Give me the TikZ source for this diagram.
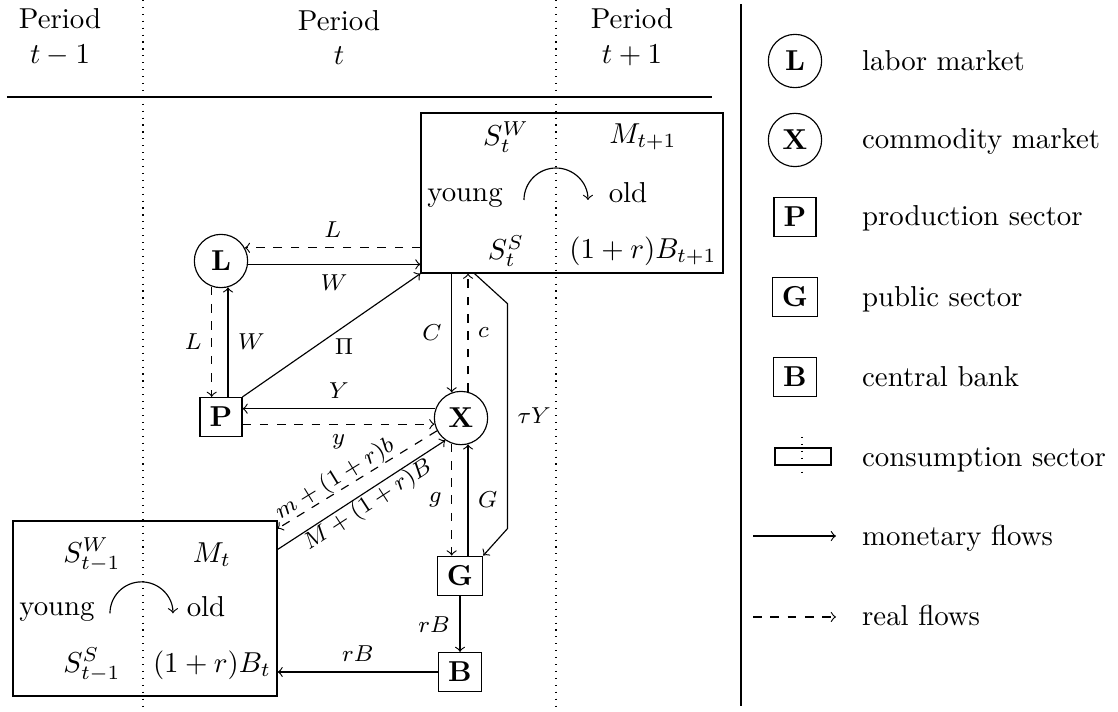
\documentclass[tikz,border=0pt]{standalone}
\usepackage{amsmath,amssymb}
\usetikzlibrary{calc}
\tikzset{
  market/.style={draw,circle,minimum size=0.65cm,inner sep=0pt,font=\bfseries},
  sector/.style={draw,rectangle,font=\bfseries},
  money/.style={->,every node/.append style={font=\footnotesize}},
  real/.style={->,dashed,every node/.append style={font=\footnotesize}},
  period/.style={align=center}
}

\begin{document}
\begin{tikzpicture}
\useasboundingbox (0,0) rectangle (13.634,-8.671);

% Periods
\node[period] (pprev) at (0.732,-0.457) {Period\\$t-1$};
\node[period] (pnow) at (4.134,-0.457) {Period\\$t$};
\node[period] (pnext) at (7.707,-0.457) {Period\\$t+1$};
\draw (0.085,-1.183) -- (8.683,-1.183);
\draw[dotted] (1.744,0) -- (1.744,-8.671);
\draw[dotted] (6.780,0) -- (6.780,-8.671);
\draw (9.037,-0.05) -- (9.037,-8.61);

% Consumption sector, period t
\node[draw,minimum width=3.683cm,minimum height=1.951cm,inner sep=0pt] (cnow) at (6.976,-2.354) {};
\node (swnow) at (6.17,-1.671) {$S_t^W$};
\node (mnow) at (7.841,-1.671) {$M_{t+1}$};
\node[anchor=base] (ynow) at (5.671,-2.463) {young};
\node[anchor=base] (onow) at (7.659,-2.475) {old};
\draw[->] (6.390,-2.439) arc (180:0:0.39);
\node (ssnow) at (6.17,-3.061) {$S_t^S$};
\node (bnow) at (7.841,-3.061) {$(1+r)B_{t+1}$};

% Consumption sector, period t-1
\node[draw,minimum width=3.220cm,minimum height=2.134cm,inner sep=0pt] (cprev) at (1.768,-7.421) {};
\node (swprev) at (1.122,-6.768) {$S_{t-1}^W$};
\node (mprev) at (2.585,-6.768) {$M_t$};
\node[anchor=base] (yprev) at (0.695,-7.500) {young};
\node[anchor=base] (oprev) at (2.512,-7.524) {old};
\draw[->] (1.341,-7.480) arc (180:0:0.384);
\node (ssprev) at (1.122,-8.110) {$S_{t-1}^S$};
\node (bprev) at (2.585,-8.110) {$(1+r)B_t$};

% Markets and sectors
\node[market] (L) at (2.695,-3.183) {L};
\node[sector] (P) at (2.695,-5.085) {P};
\node[market] (X) at (5.622,-5.098) {X};
\node[sector] (G) at (5.610,-7.024) {G};
\node[sector] (B) at (5.610,-8.195) {B};

% Flows
\draw[real] (cnow.west |- L.29) -- (L.29) node[midway,above] {$L$};
\draw[money] (L.-7) -- (L.-7 -| cnow.west) node[midway,below] {$W$};
\draw[real] (L.-110) -- (L.-110 |- P.north) node[midway,left] {$L$};
\draw[money] (P.north -| L.-75) -- (L.-75) node[midway,right] {$W$};
\draw[money] (P.north east) -- (cnow.south west) node[midway,below right,inner sep=1pt] {$\Pi$};
\draw[money] (X.160) -- (X.160 -| P.east) node[midway,above] {$Y$};
\draw[real] (X.-167 -| P.east) -- (X.-167) node[midway,below] {$y$};
\draw[money] (cnow.south -| X.110) -- (X.110) node[midway,left] {$C$};
\draw[real] (X.75) -- (X.75 |- cnow.south) node[midway,right] {$c$};
\draw[real] (X.-110) -- (X.-110 |- G.north) node[midway,left] {$g$};
\draw[money] (G.north -| X.-75) -- (X.-75) node[midway,right] {$G$};
\draw[money] ($(cnow.south west)+(0.659,0)$) -- ++(0.402,-0.366) -- ++(0,-2.744) node[midway,right] {$\tau Y$} -- (G.north east);
\draw[money] (G) -- (B) node[midway,left] {$rB$};
\draw[money] (B) -- (B -| cprev.east) node[midway,above] {$rB$};
\draw[real] (X.208) -- ($(cprev.north east)+(0,-0.1)$) node[pos=0.6,above,sloped,inner sep=0pt] {$m+(1+r)b$};
\draw[money] ($(cprev.north east)+(0,-0.354)$) -- (X.235) node[midway,below,sloped,inner sep=0pt] {$M+(1+r)B$};

% Legend
\node[market] (lgL) at (9.695,-0.744) {L};
\node[anchor=base west] (lgLt) at (10.39,-0.854) {labor market};
\node[market] (lgX) at (9.695,-1.707) {X};
\node[anchor=base west] (lgXt) at (10.39,-1.817) {commodity market};
\node[sector] (lgP) at (9.695,-2.646) {P};
\node[anchor=base west] (lgPt) at (10.39,-2.756) {production sector};
\node[sector] (lgG) at (9.695,-3.622) {G};
\node[anchor=base west] (lgGt) at (10.39,-3.732) {public sector};
\node[sector] (lgB) at (9.695,-4.598) {B};
\node[anchor=base west] (lgBt) at (10.39,-4.708) {central bank};
\draw (9.451,-5.463) rectangle (10.134,-5.671);
\draw[dotted] (9.780,-5.329) -- (9.780,-5.805);
\node[anchor=base west] (lgCt) at (10.39,-5.683) {consumption sector};
\draw[->] (9.183,-6.537) -- (10.195,-6.537);
\node[anchor=base west] (lgMt) at (10.39,-6.647) {monetary flows};
\draw[->,dashed] (9.183,-7.524) -- (10.195,-7.524);
\node[anchor=base west] (lgRt) at (10.39,-7.634) {real flows};
\end{tikzpicture}
\end{document}
